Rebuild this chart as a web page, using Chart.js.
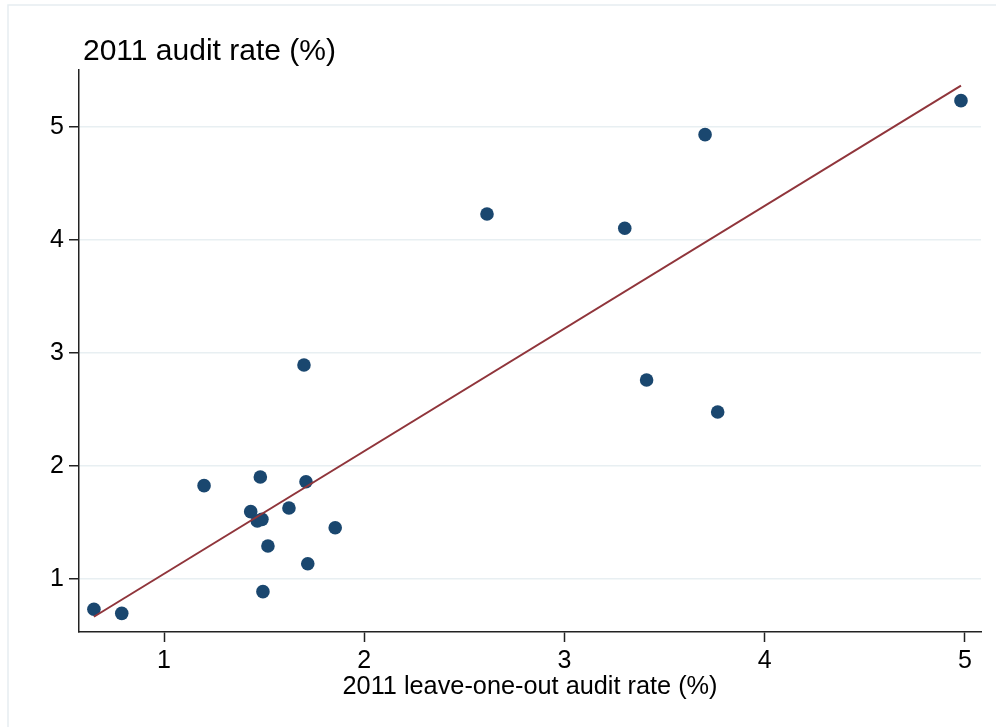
<!DOCTYPE html>
<html>
<head>
<meta charset="utf-8">
<script src="https://cdn.jsdelivr.net/npm/chart.js@4.4.1/dist/chart.umd.min.js"></script>
<style>
    body { margin: 0; background: #fff; }
    #wrap { width: 996px; height: 727px; }
</style>
</head>
<body>
<div id="wrap"><canvas id="scatter-chart" width="996" height="727"></canvas></div>
<script>
// leave-one-out rate (x) vs own rate (y), one point per unit
const leaveOneOut = [0.650, 0.789, 1.200, 1.481, 1.709, 1.433, 1.624, 1.466, 1.489, 1.855,
                     1.519, 1.718, 1.494, 1.699, 2.613, 3.301, 3.702, 3.410, 3.765, 4.980];
const auditRate = [0.732, 0.696, 1.826, 1.903, 1.861, 1.596, 1.628, 1.513, 1.528, 1.454,
                   1.292, 1.135, 0.888, 2.894, 4.230, 4.104, 4.932, 2.761, 2.478, 5.233];

// fitted line, end points at the smallest and largest x
const fitX = [0.650, 4.980];
const fitY = [0.666, 5.366];

const xTicks = [1, 2, 3, 4, 5];
const yTicks = [1, 2, 3, 4, 5];

const yTitle = '2011 audit rate (%)';
const xTitle = '2011 leave-one-out audit rate (%)';

const fontFamily = '"Liberation Sans", Helvetica, Arial, sans-serif';
Chart.defaults.font.family = fontFamily;
Chart.defaults.color = '#000';

const frameAndTitle = {
    id: 'frameAndTitle',
    beforeDraw(chart) {
        const ctx = chart.ctx;
        ctx.save();
        ctx.strokeStyle = '#e6edf1';
        ctx.lineWidth = 1.5;
        ctx.beginPath();
        ctx.moveTo(8, 727);
        ctx.lineTo(8, 5);
        ctx.lineTo(996, 5);
        ctx.stroke();
        ctx.restore();
    },
    afterDraw(chart) {
        const ctx = chart.ctx;
        ctx.save();
        ctx.fillStyle = '#000';
        ctx.font = '30px ' + fontFamily;
        ctx.textAlign = 'left';
        ctx.textBaseline = 'alphabetic';
        ctx.fillText(yTitle, 83, 60);
        ctx.restore();
    }
};

const points = leaveOneOut.map((x, i) => ({x: x, y: auditRate[i]}));
const fitLine = fitX.map((x, i) => ({x: x, y: fitY[i]}));

const ctx = document.getElementById('scatter-chart').getContext('2d');
window.scatterChart = new Chart(ctx, {
    type: 'scatter',
    data: {
        datasets: [{
            label: 'Fitted values',
            type: 'line',
            data: fitLine,
            borderColor: '#90353b',
            borderWidth: 2,
            pointRadius: 0,
            fill: false,
            order: 1
        }, {
            label: '2011 audit rate',
            data: points,
            backgroundColor: '#1a476f',
            borderWidth: 0,
            pointRadius: 6.8,
            order: 2
        }]
    },
    plugins: [frameAndTitle],
    options: {
        responsive: false,
        animation: false,
        layout: {
            padding: {left: 0, top: 70, right: 15, bottom: 0}
        },
        plugins: {
            legend: {
                display: false
            },
            tooltip: {
                enabled: false
            }
        },
        scales: {
            x: {
                type: 'linear',
                min: 0.5755,
                max: 5.08,
                afterBuildTicks: scale => {
                    scale.ticks = xTicks.map(v => ({value: v}));
                },
                afterFit: scale => {
                    scale.height = 95;
                },
                border: {
                    display: true,
                    color: '#222',
                    width: 1.5
                },
                grid: {
                    drawOnChartArea: false,
                    drawTicks: true,
                    tickLength: 10,
                    tickColor: '#222',
                    tickWidth: 1.5
                },
                ticks: {
                    color: '#000',
                    padding: 4,
                    maxRotation: 0,
                    font: {size: 25},
                    callback: value => String(value)
                },
                title: {
                    display: true,
                    text: xTitle,
                    color: '#000',
                    font: {size: 25.3},
                    padding: {top: 0, bottom: 25}
                }
            },
            y: {
                type: 'linear',
                min: 0.531,
                max: 5.504,
                afterBuildTicks: scale => {
                    scale.ticks = yTicks.map(v => ({value: v}));
                },
                afterFit: scale => {
                    scale.width = 79;
                },
                border: {
                    display: true,
                    color: '#222',
                    width: 1.5
                },
                grid: {
                    color: '#e8eff2',
                    lineWidth: 1.5,
                    drawTicks: true,
                    tickLength: 10,
                    tickColor: '#222',
                    tickWidth: 1.5
                },
                ticks: {
                    color: '#000',
                    padding: 5,
                    font: {size: 25},
                    callback: value => String(value)
                }
            }
        }
    }
});
</script>
</body>
</html>
